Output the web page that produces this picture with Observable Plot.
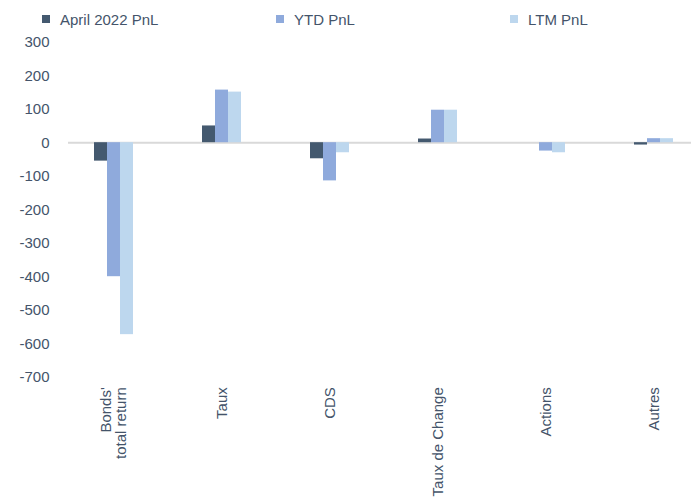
<!DOCTYPE html>
<html>
<head>
<meta charset="utf-8">
<script src="https://cdn.jsdelivr.net/npm/d3@7"></script>
<script src="https://cdn.jsdelivr.net/npm/@observablehq/plot@0.6"></script>
<style>
  html, body { margin: 0; padding: 0; background: #fff; }
  body { width: 691px; height: 501px; overflow: hidden; font-family: "Liberation Sans", Arial, sans-serif; }
  #legend { height: 34px; box-sizing: border-box; padding-top: 4px; padding-left: 42px; display: flex; }
  .item { flex: none; width: 234px; display: flex; align-items: center; height: 30px; font-size: 15px; color: #44546A; }
  .sw { width: 8px; height: 8px; margin-right: 10px; flex: none; }
  #chart { position: relative; width: 691px; height: 467px; }
  #chart svg { display: block; position: absolute; left: 0; top: 0; }
</style>
</head>
<body>
<div id="legend"></div>
<div id="chart"></div>
<script>
const categories = ["Bonds'\ntotal return", "Taux", "CDS", "Taux de Change", "Actions", "Autres"];
const seriesNames = ["April 2022 PnL", "YTD PnL", "LTM PnL"];
const aprilPnL = [-55, 50, -48, 11, 0, -7];
const ytdPnL = [-400, 157, -114, 97, -25, 12];
const ltmPnL = [-573, 151, -30, 97, -30, 12];
const yTicks = [300, 200, 100, 0, -100, -200, -300, -400, -500, -600, -700];
const colors = ["#44596F", "#8FAADC", "#BDD7EE"];

const seriesValues = [aprilPnL, ytdPnL, ltmPnL];
const data = categories.flatMap((c, i) =>
  seriesNames.map((s, j) => ({category: c, series: s, value: seriesValues[j][i]}))
);

const legend = document.getElementById("legend");
seriesNames.forEach((s, j) => {
  const it = document.createElement("div");
  it.className = "item";
  it.innerHTML = `<span class="sw" style="background:${colors[j]}"></span><span>${s}</span>`;
  legend.appendChild(it);
});

const common = {
  width: 691,
  height: 467,
  marginTop: 7.7,
  marginBottom: 124.3,
  marginLeft: 68,
  marginRight: 0,
  style: {fontFamily: "'Liberation Sans', Arial, sans-serif", fontSize: "15px", color: "#44546A", background: "transparent", overflow: "visible"}
};

// Base layer: y axis and zero line spanning the full frame
const base = Plot.plot({
  ...common,
  y: {domain: [-700, 300], label: null},
  marks: [
    Plot.ruleY([0], {stroke: "#D9D9D9", strokeWidth: 2}),
    Plot.axisY(yTicks, {tickSize: 0, tickPadding: 19, label: null, fontSize: 15, tickFormat: d => String(d)})
  ]
});

// Top layer: grouped bars (faceted by category) and category labels
const bars = Plot.plot({
  ...common,
  fx: {domain: categories, paddingInner: 0.622, paddingOuter: 0.1845, align: 0.6, label: null},
  x: {domain: seriesNames, padding: 0, axis: null},
  y: {domain: [-700, 300], axis: null},
  color: {domain: seriesNames, range: colors},
  marks: [
    Plot.axisFx({anchor: "bottom", tickSize: 0, tickPadding: 10, tickRotate: -90, label: null, fontSize: 15}),
    Plot.barY(data, {fx: "category", x: "series", y: "value", fill: "series"})
  ]
});

const el = document.getElementById("chart");
el.appendChild(base);
el.appendChild(bars);
</script>
</body>
</html>
